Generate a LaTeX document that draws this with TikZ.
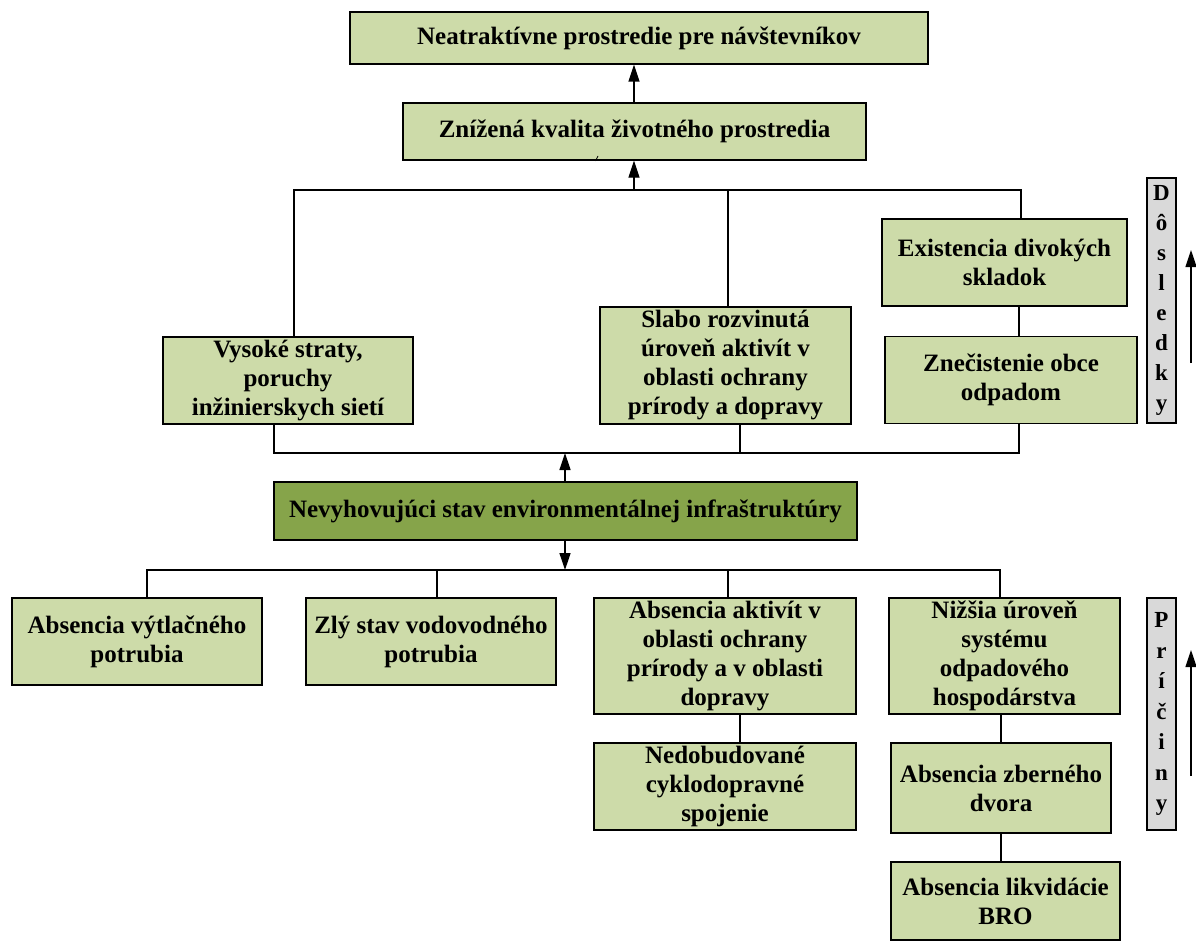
\documentclass[tikz,border=0pt]{standalone}
\usepackage{fontspec}
\setmainfont{Liberation Serif}
\usetikzlibrary{arrows.meta}
\definecolor{lgreen}{HTML}{CDDBA9}
\definecolor{dgreen}{HTML}{86A44A}
\definecolor{lgray}{HTML}{D9D9D9}
\begin{document}
\begin{tikzpicture}[x=1pt,y=-1pt,
  box/.style={draw, fill=lgreen, line width=1.3pt, align=center,
    font=\fontsize{25}{29}\selectfont\bfseries, inner sep=0pt},
  dbox/.style={box, fill=dgreen},
  side/.style={draw, fill=lgray, line width=1.3pt, align=center,
    font=\fontsize{23}{30}\selectfont\bfseries, inner sep=0pt},
  ln/.style={line width=1.3pt},
  arr/.style={line width=1.3pt, -{Triangle[length=17pt,width=11pt]}}
]
\useasboundingbox (0,0) rectangle (1196,947);

% nodes
\node[box, minimum width=578, minimum height=52] (top) at (639,38) {Neatraktívne prostredie pre návštevníkov};
\node[box, minimum width=463, minimum height=57] (zn) at (634.5,131.5) {Znížená kvalita životného prostredia};
\node[box, minimum width=250, minimum height=87] (vys) at (288,380.5) {Vysoké straty,\\poruchy\\inžinierskych sietí};
\node[box, minimum width=251, minimum height=117] (slabo) at (725.5,365.5) {Slabo rozvinutá\\úroveň aktivít v\\oblasti ochrany\\prírody a dopravy};
\node[box, minimum width=245, minimum height=87] (exist) at (1004.5,262.5) {Existencia divokých\\skladok};
\node[box, minimum width=252, minimum height=87] (znec) at (1011,380) {Znečistenie obce\\odpadom};
\node[dbox, minimum width=583, minimum height=58] (nev) at (565.5,511) {Nevyhovujúci stav environmentálnej infraštruktúry};
\node[box, minimum width=250, minimum height=87] (absv) at (137,641.5) {Absencia výtlačného\\potrubia};
\node[box, minimum width=250, minimum height=87] (zly) at (431,641.5) {Zlý stav vodovodného\\potrubia};
\node[box, minimum width=262, minimum height=116] (absa) at (725,656) {Absencia aktivít v\\oblasti ochrany\\prírody a v oblasti\\dopravy};
\node[box, minimum width=262, minimum height=87] (nedo) at (725,786.5) {Nedobudované\\cyklodopravné\\spojenie};
\node[box, minimum width=231, minimum height=116] (niz) at (1004.5,656) {Nižšia úroveň\\systému\\odpadového\\hospodárstva};
\node[box, minimum width=220, minimum height=90] (abz) at (1001,788) {Absencia zberného\\dvora};
\node[box, minimum width=229, minimum height=78] (abl) at (1005.5,901) {Absencia likvidácie\\BRO};
\node[side, minimum width=29, minimum height=245] (dos) at (1161.5,300.5) {D\\ô\\s\\l\\e\\d\\k\\y};
\node[side, minimum width=29, minimum height=232, font=\fontsize{23}{30.5}\selectfont\bfseries] (pri) at (1161.5,714) {P\\r\\í\\č\\i\\n\\y};

% coordinates
\coordinate (a1) at (634,0);
\coordinate (jt) at (634,190);
\coordinate (jl) at (294,190);
\coordinate (jm) at (728,190);
\coordinate (jr) at (1021,190);
\coordinate (ez) at (1019,0);
\coordinate (bl) at (274,453);
\coordinate (bm) at (740,453);
\coordinate (br) at (1019,453);
\coordinate (bc) at (565,453);
\coordinate (cc) at (565,570);
\coordinate (c1) at (147,570);
\coordinate (c2) at (437,570);
\coordinate (c3) at (728,570);
\coordinate (c4) at (1000,570);
\coordinate (v1) at (740,0);
\coordinate (v2) at (1001,0);
\coordinate (s1a) at (1191,363);
\coordinate (s1b) at (1191,250);
\coordinate (s2a) at (1191,776);
\coordinate (s2b) at (1191,650);
\coordinate (t1) at (595.5,161);
\coordinate (t2) at (598,156);

% connectors
\draw[arr] (zn.north -| a1) -- (top.south -| a1);
\draw[arr] (jt) -- (zn.south -| jt);
\draw[ln] (vys.north -| jl) -- (jl) -- (jr) -- (exist.north -| jr);
\draw[ln] (jm) -- (slabo.north -| jm);
\draw[ln] (exist.south -| ez) -- (znec.north -| ez);
\draw[ln] (vys.south -| bl) -- (bl) -- (br) -- (znec.south -| br);
\draw[ln] (bm) -- (slabo.south -| bm);
\draw[arr] (nev.north -| bc) -- (bc);
\draw[arr] (nev.south -| cc) -- (cc);
\draw[ln] (absv.north -| c1) -- (c1) -- (c4) -- (niz.north -| c4);
\draw[ln] (c2) -- (zly.north -| c2);
\draw[ln] (c3) -- (absa.north -| c3);
\draw[ln] (absa.south -| v1) -- (nedo.north -| v1);
\draw[ln] (niz.south -| v2) -- (abz.north -| v2);
\draw[ln] (abz.south -| v2) -- (abl.north -| v2);
\draw[arr] (s1a) -- (s1b);
\draw[arr] (s2a) -- (s2b);
\draw[line width=0.8pt] (t1) -- (t2);
\end{tikzpicture}
\end{document}
